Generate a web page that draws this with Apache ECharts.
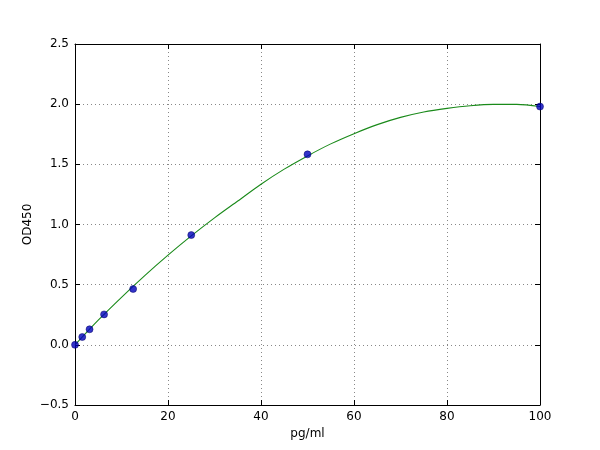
<!DOCTYPE html>
<html>
<head>
<meta charset="utf-8">
<script src="https://cdn.jsdelivr.net/npm/echarts@6/dist/echarts.min.js"></script>
<style>
  html, body { margin: 0; padding: 0; background: #fff; }
  #chart { width: 600px; height: 450px; }
</style>
</head>
<body>
<div id="chart"></div>
<script>
// standard points
var concentrations = [0, 1.56, 3.125, 6.25, 12.5, 25, 50, 100];
var odValues = [0.0, 0.065, 0.129, 0.253, 0.464, 0.912, 1.583, 1.98];

// fitted curve
var curveX = [0, 5, 10, 15, 20, 25, 30, 35, 40, 45, 50, 55, 60, 65, 70, 75, 80, 85, 90, 95, 100];
var curveY = [0.0, 0.205, 0.395, 0.575, 0.745, 0.905, 1.055, 1.195, 1.335, 1.46, 1.57, 1.67, 1.755, 1.83, 1.89, 1.935, 1.965, 1.987, 1.998, 1.998, 1.98];

var xTicks = [0, 20, 40, 60, 80, 100];
var yTicks = [-0.5, 0.0, 0.5, 1.0, 1.5, 2.0, 2.5];

var font = 'DejaVu Sans';
var minus = function(s){ return String(s).replace('-', '\u2212'); };

var pts = concentrations.map(function(c, i){ return [c, odValues[i]]; });
var curve = curveX.map(function(c, i){ return [c, curveY[i]]; });

var tickStyle = { show: true, inside: true, length: 5, lineStyle: { color: '#000', width: 1 } };
var lineStyle = { show: true, onZero: false, lineStyle: { color: '#000', width: 1 } };

var chart = echarts.init(document.getElementById('chart'));
chart.setOption({
  animation: false,
  backgroundColor: '#fff',
  grid: { left: 75, right: 60, top: 44, bottom: 45 },
  xAxis: [{
    type: 'value', min: xTicks[0], max: xTicks[xTicks.length-1], interval: 20,
    name: 'pg/ml', nameLocation: 'middle', nameGap: 23, nameMoveOverlap: false,
    nameTextStyle: { fontFamily: font, fontSize: 12, color: '#000' },
    axisLine: lineStyle, axisTick: tickStyle,
    axisLabel: { fontFamily: font, fontSize: 12, color: '#000', margin: 6 },
    splitLine: { show: true, lineStyle: { color: '#888', type: [1, 3], width: 1 } }
  }, {
    type: 'value', position: 'top', min: 0, max: 100, interval: 20,
    axisLine: lineStyle, axisTick: tickStyle, axisLabel: { show: false }, splitLine: { show: false }
  }],
  yAxis: [{
    type: 'value', min: yTicks[0], max: yTicks[yTicks.length-1], interval: 0.5,
    name: 'OD450', nameLocation: 'middle', nameGap: 41, nameMoveOverlap: false,
    nameTextStyle: { fontFamily: font, fontSize: 12, color: '#000' },
    axisLine: lineStyle, axisTick: tickStyle,
    axisLabel: { fontFamily: font, fontSize: 12, color: '#000', margin: 6,
      formatter: function(v){ return minus(v.toFixed(1)); } },
    splitLine: { show: true, lineStyle: { color: '#888', type: [1, 3], width: 1 } }
  }, {
    type: 'value', position: 'right', min: -0.5, max: 2.5, interval: 0.5,
    axisLine: lineStyle, axisTick: tickStyle, axisLabel: { show: false }, splitLine: { show: false }
  }],
  series: [{
    type: 'line', data: curve, smooth: 0.3, showSymbol: false,
    lineStyle: { color: '#1a8a1a', width: 1.1 }, z: 2
  }, {
    type: 'scatter', data: pts, symbolSize: 7,
    itemStyle: { color: '#0000bb', borderColor: '#000060', borderWidth: 0.6 }, z: 3
  }]
});
</script>
</body>
</html>
